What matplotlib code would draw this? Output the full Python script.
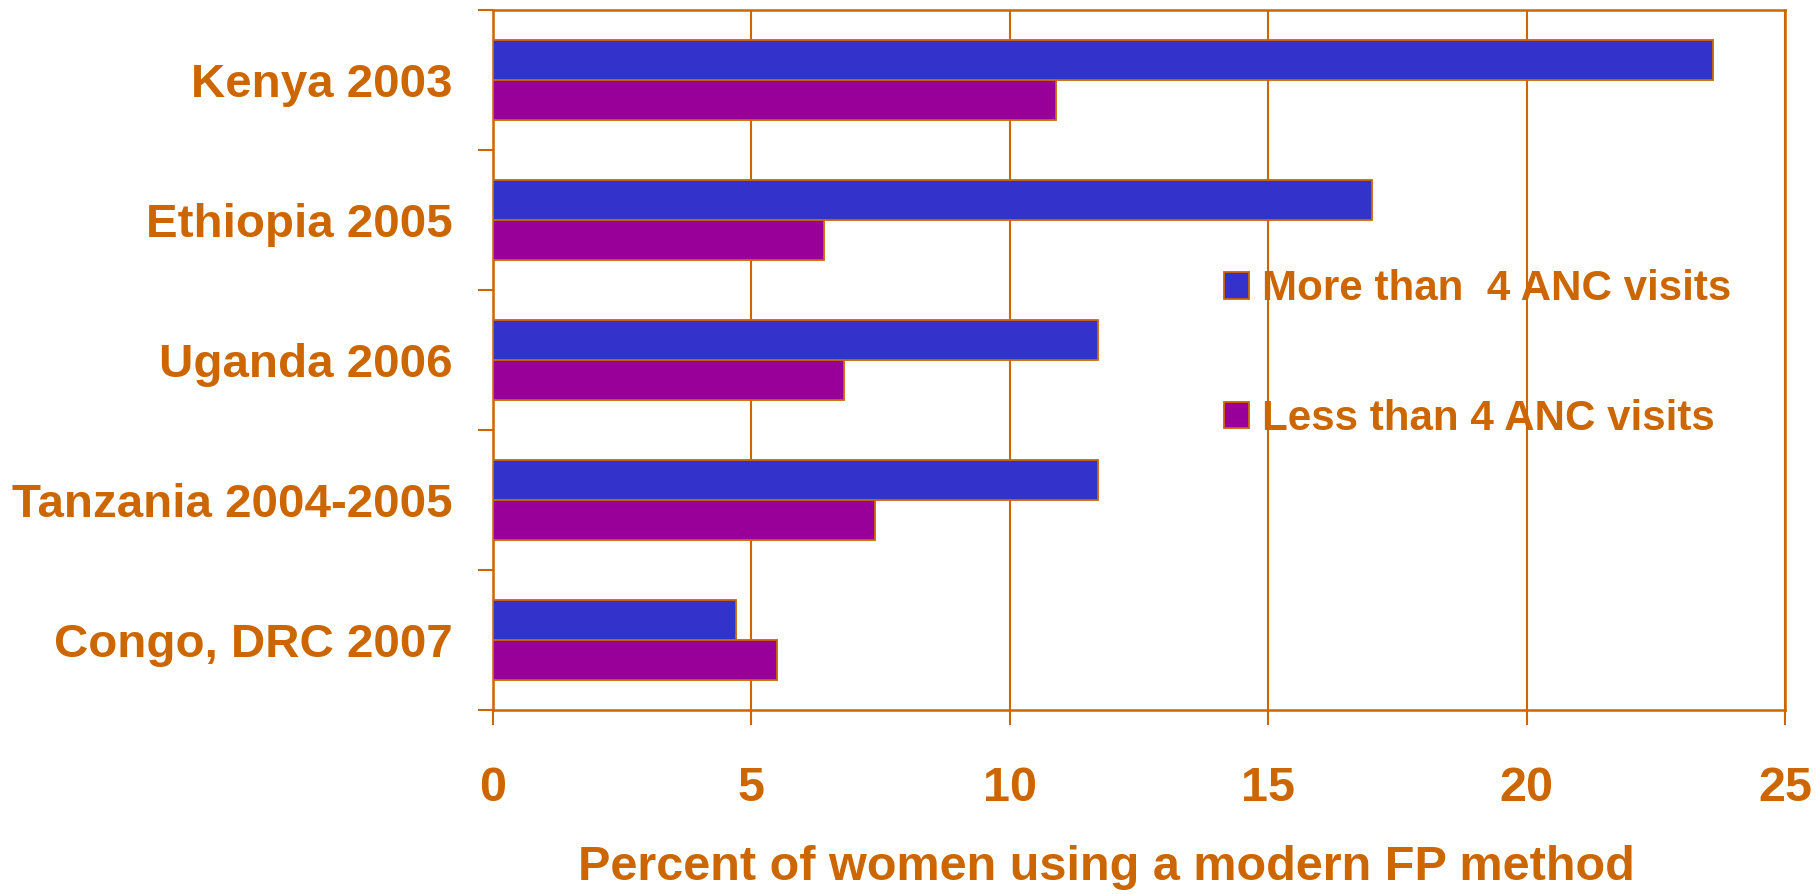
import numpy as np
import matplotlib.pyplot as plt
from matplotlib.patches import Patch

plt.rcParams['font.family'] = ['Liberation Sans', 'DejaVu Sans']
plt.rcParams['font.weight'] = 'bold'

countries = ["Kenya 2003", "Ethiopia 2005", "Uganda 2006",
             "Tanzania 2004-2005", "Congo, DRC 2007"]
more_than_4 = [23.6, 17.0, 11.7, 11.7, 4.7]
less_than_4 = [10.9, 6.4, 6.8, 7.4, 5.5]
series_names = ["More than  4 ANC visits", "Less than 4 ANC visits"]
xticks = [0, 5, 10, 15, 20, 25]

orange = "#CC6600"
blue = "#3333CC"
purple = "#990099"

fig = plt.figure(figsize=(18.16, 8.94), dpi=100)
ax = fig.add_axes([493 / 1816, 1 - 710 / 894, (1785 - 493) / 1816, 700 / 894])

y = np.arange(len(countries))
h = 0.286
ax.barh(y - h / 2, more_than_4, height=h, color=blue, edgecolor=orange,
        linewidth=1.3, zorder=3)
ax.barh(y + h / 2, less_than_4, height=h, color=purple, edgecolor=orange,
        linewidth=1.3, zorder=3)

ax.set_xlim(0, 25)
ax.set_ylim(len(countries) - 0.5, -0.5)

# vertical grid
ax.set_xticks(xticks)
ax.set_xticklabels([str(t) for t in xticks])
ax.grid(axis='x', color=orange, linewidth=1.5, zorder=0)
ax.set_axisbelow(True)

# category labels at centres, tick marks at boundaries
ax.set_yticks(y)
ax.set_yticklabels(countries)
ax.set_yticks(np.arange(len(countries) + 1) - 0.5, minor=True)
ax.tick_params(axis='y', which='major', length=0, pad=29,
               labelsize=34.2, labelcolor=orange)
ax.tick_params(axis='y', which='minor', length=11, width=1.5, color=orange,
               direction='out')
ax.tick_params(axis='x', which='major', length=11, width=1.5, color=orange,
               direction='out', pad=29, labelsize=35, labelcolor=orange)

for s in ax.spines.values():
    s.set_color(orange)
    s.set_linewidth(1.8)

ax.set_xlabel("Percent of women using a modern FP method", fontsize=35,
              color=orange, fontweight='bold', labelpad=25)
ax.xaxis.label.set_x(0.475)

handles = [Patch(facecolor=blue, edgecolor=orange, linewidth=1.3),
           Patch(facecolor=purple, edgecolor=orange, linewidth=1.3)]
leg = fig.legend(handles, series_names, loc='center left',
                 bbox_to_anchor=(1224 / 1816, 1 - 354 / 894),
                 bbox_transform=fig.transFigure, frameon=False,
                 fontsize=30.3, handlelength=0.6, handleheight=0.6,
                 handletextpad=0.3, labelspacing=2.13, borderpad=0,
                 borderaxespad=0)
for t in leg.get_texts():
    t.set_color(orange)

fig.savefig("out.png", dpi=100)
